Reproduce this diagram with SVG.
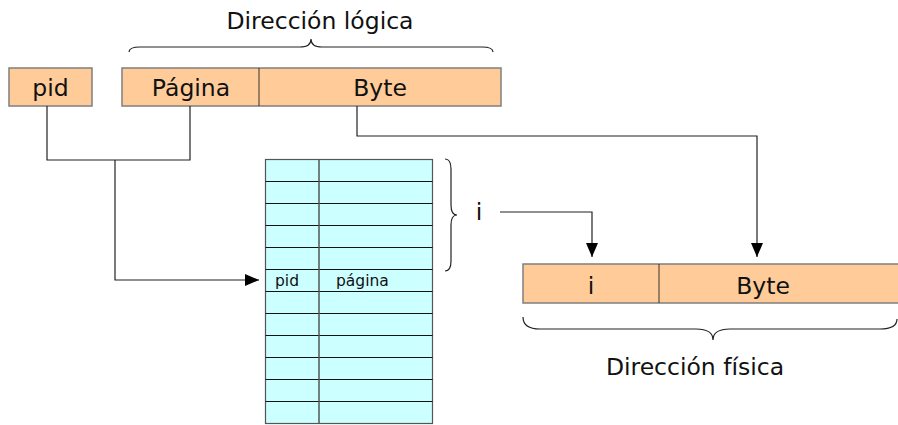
<svg xmlns="http://www.w3.org/2000/svg" width="898" height="425" viewBox="0 0 898 425">
  <style>
    .field { fill: #FFCC99; stroke: #7f7f7f; stroke-width: 1.5; }
    .div { stroke: #333; stroke-width: 1; }
    .cell { fill: #CCFFFF; stroke: #555; stroke-width: 1.2; }
    .hline { stroke: #111; stroke-width: 1; }
    .vline { stroke: #555; stroke-width: 1.5; }
    .lbl { font-family: "DejaVu Sans", Verdana, sans-serif; font-size: 23.5px; fill: #111; text-anchor: middle; }
    .small { font-family: "DejaVu Sans", Verdana, sans-serif; font-size: 15.5px; fill: #111; }
    .brace { fill: none; stroke: #222; stroke-width: 1.2; }
    .wire { fill: none; stroke: #222; stroke-width: 1.2; }
  </style>
  <defs>
    <marker id="arrow" markerUnits="userSpaceOnUse" markerWidth="14" markerHeight="14" viewBox="0 0 14 14" refX="14" refY="7" orient="auto">
      <path d="M0,1 L14,7 L0,13 Z" fill="#000"/>
    </marker>
  </defs>

  <!-- logical address -->
  <g id="logical-label">
    <text class="lbl" x="320" y="29">Dirección lógica</text>
    <path class="brace" d="M129,52 Q129,47 140,47 L300,47 Q311,47 311,39 Q311,47 322,47 L482,47 Q493,47 493,52"/>
  </g>
  <g id="pid-field">
    <rect class="field" x="9" y="68" width="83" height="38"/>
    <text class="lbl" x="50.5" y="96">pid</text>
  </g>
  <g id="logical-address">
    <rect class="field" x="122" y="68" width="379" height="38"/>
    <line class="div" x1="259" y1="68" x2="259" y2="106"/>
    <text class="lbl" x="191" y="96">Página</text>
    <text class="lbl" x="380" y="96">Byte</text>
  </g>

  <!-- inverted page table -->
  <g id="page-table">
    <rect class="cell" x="265.5" y="159.5" width="167" height="264"/>
    <line class="hline" x1="265.5" y1="181.5" x2="432.5" y2="181.5"/>
    <line class="hline" x1="265.5" y1="203.5" x2="432.5" y2="203.5"/>
    <line class="hline" x1="265.5" y1="225.5" x2="432.5" y2="225.5"/>
    <line class="hline" x1="265.5" y1="247.5" x2="432.5" y2="247.5"/>
    <line class="hline" x1="265.5" y1="269.5" x2="432.5" y2="269.5"/>
    <line class="hline" x1="265.5" y1="291.5" x2="432.5" y2="291.5"/>
    <line class="hline" x1="265.5" y1="313.5" x2="432.5" y2="313.5"/>
    <line class="hline" x1="265.5" y1="335.5" x2="432.5" y2="335.5"/>
    <line class="hline" x1="265.5" y1="357.5" x2="432.5" y2="357.5"/>
    <line class="hline" x1="265.5" y1="379.5" x2="432.5" y2="379.5"/>
    <line class="hline" x1="265.5" y1="401.5" x2="432.5" y2="401.5"/>
    <line class="vline" x1="319" y1="159.5" x2="319" y2="423.5"/>
    <text class="small" x="275" y="286">pid</text>
    <text class="small" x="336" y="286">página</text>
  </g>

  <g id="index-label">
    <path class="brace" d="M445,159 Q451,159 451,169 L451,205 Q451,215 457,215 Q451,215 451,225 L451,261 Q451,271 445,271"/>
    <text class="lbl" x="479" y="220">i</text>
  </g>

  <!-- physical address -->
  <g id="physical-address">
    <rect class="field" x="523" y="264" width="380" height="39"/>
    <line class="div" x1="659" y1="264" x2="659" y2="303"/>
    <text class="lbl" x="591" y="294">i</text>
    <text class="lbl" x="763" y="294">Byte</text>
  </g>
  <g id="physical-label">
    <path class="brace" d="M523,317 Q523,329 540,329 L696,329 Q713,329 713,340 Q713,329 730,329 L880,329 Q897,329 897,319"/>
    <text class="lbl" x="695" y="375">Dirección física</text>
  </g>

  <!-- connectors -->
  <g id="connectors">
    <polyline class="wire" points="47,106 47,160 190,160 190,106"/>
    <polyline class="wire" points="115,160 115,280 259,280" marker-end="url(#arrow)"/>
    <polyline class="wire" points="357,106 357,136 757,136 757,257" marker-end="url(#arrow)"/>
    <polyline class="wire" points="500,212 592,212 592,257" marker-end="url(#arrow)"/>
  </g>
</svg>
